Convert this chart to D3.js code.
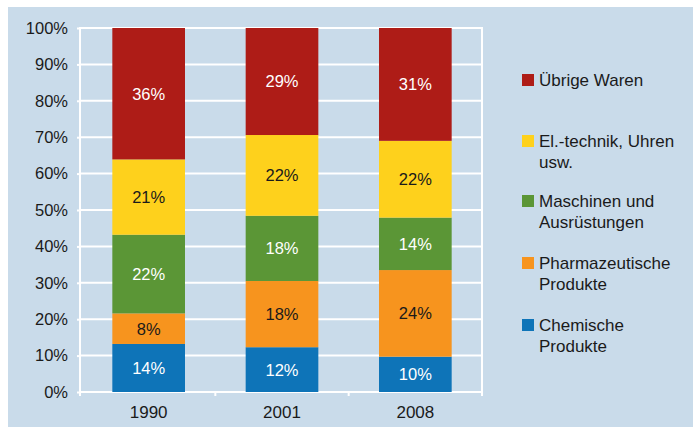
<!DOCTYPE html>
<html>
<head>
<meta charset="utf-8">
<script src="https://cdn.jsdelivr.net/npm/d3@7"></script>
<style>
  html, body { margin: 0; padding: 0; background: #ffffff; }
  svg { display: block; font-family: "Liberation Sans", Arial, Helvetica, sans-serif; }
</style>
</head>
<body>
<svg id="chart" width="693" height="427"></svg>
<script>
// ---- data ----
const years = ["1990", "2001", "2008"];
const seriesNames = ["Chemische Produkte", "Pharmazeutische Produkte", "Maschinen und Ausrüstungen", "El.-technik, Uhren usw.", "Übrige Waren"];
const legendLines = [["Chemische", "Produkte"], ["Pharmazeutische", "Produkte"], ["Maschinen und", "Ausrüstungen"], ["El.-technik, Uhren", "usw."], ["Übrige Waren"]];
const colors = ["#0e74b8", "#f7941e", "#5b9636", "#fed11c", "#ae1c17"];
const labelColors = ["#ffffff", "#1a1a1a", "#ffffff", "#1a1a1a", "#ffffff"];
// shares (percent) per year, bottom to top
const chemische = [13.2, 12.3, 9.7];
const pharma = [8.4, 18.2, 23.8];
const maschinen = [21.6, 17.9, 14.4];
const eltechnik = [20.7, 22.2, 21.1];
const uebrige = [36.1, 29.4, 31.0];
// printed labels
const chemLabels = ["14%", "12%", "10%"];
const pharmaLabels = ["8%", "18%", "24%"];
const maschLabels = ["22%", "18%", "14%"];
const elLabels = ["21%", "22%", "22%"];
const uebrigeLabels = ["36%", "29%", "31%"];
const yTicks = [0, 10, 20, 30, 40, 50, 60, 70, 80, 90, 100];

const seriesValues = [chemische, pharma, maschinen, eltechnik, uebrige];
const seriesLabels = [chemLabels, pharmaLabels, maschLabels, elLabels, uebrigeLabels];

const rows = years.map((yr, i) => {
  const r = { year: yr };
  seriesNames.forEach((s, k) => r[s] = seriesValues[k][i]);
  return r;
});

const svg = d3.select("#chart");

// background panel
svg.append("rect").attr("x", 8).attr("y", 7).attr("width", 685).attr("height", 420).attr("fill", "#c9dbea");

const plotL = 80, plotR = 482, plotT = 28, plotB = 392;
const x = d3.scaleBand().domain(years).range([82, plotR]).paddingInner(0.455).paddingOuter(0.2275);
const y = d3.scaleLinear().domain([0, 100]).range([plotB, plotT]);

// gridlines
svg.append("g").selectAll("line").data(yTicks).join("line")
  .attr("x1", plotL).attr("x2", plotR)
  .attr("y1", d => y(d)).attr("y2", d => y(d))
  .attr("stroke", "#ffffff").attr("stroke-width", 2);

// right border
svg.append("line").attr("x1", plotR).attr("x2", plotR).attr("y1", plotT - 1).attr("y2", plotB + 4)
  .attr("stroke", "#ffffff").attr("stroke-width", 2);

// left axis
const yAxis = svg.append("g").attr("transform", `translate(${plotL},0)`)
  .call(d3.axisLeft(y).tickValues(yTicks).tickFormat(d => d + "%").tickSize(3).tickPadding(9));
yAxis.select(".domain").attr("stroke", "#ffffff").attr("stroke-width", 2)
  .attr("d", `M0,${plotT - 1}V${plotB + 4}`);
yAxis.selectAll(".tick line").attr("stroke", "#ffffff").attr("stroke-width", 2);
yAxis.selectAll(".tick text").attr("fill", "#1a1a1a").style("font-size", "16.5px");

// bottom axis
const xAxis = svg.append("g").attr("transform", `translate(0,${plotB})`)
  .call(d3.axisBottom(x).tickSize(0).tickPadding(14));
xAxis.select(".domain").remove();
xAxis.selectAll(".tick text").attr("fill", "#1a1a1a").style("font-size", "17px");

// category boundary ticks
const bounds = years.map(yr => x(yr) - x.step() * x.paddingInner() / 2).slice(1);
svg.append("g").selectAll("line").data(bounds).join("line")
  .attr("x1", d => d).attr("x2", d => d).attr("y1", plotB).attr("y2", plotB + 4)
  .attr("stroke", "#ffffff").attr("stroke-width", 2);

// stacked bars
const stack = d3.stack().keys(seriesNames)(rows);
const layers = svg.append("g").selectAll("g").data(stack).join("g")
  .attr("fill", (d, i) => colors[i]);
layers.selectAll("rect").data(d => d).join("rect")
  .attr("x", d => x(d.data.year))
  .attr("width", x.bandwidth())
  .attr("y", d => y(d[1]))
  .attr("height", d => y(d[0]) - y(d[1]));

// segment labels
stack.forEach((layer, k) => {
  svg.append("g").selectAll("text").data(layer).join("text")
    .attr("x", d => x(d.data.year) + x.bandwidth() / 2)
    .attr("y", d => (y(d[0]) + y(d[1])) / 2)
    .attr("dy", "0.36em")
    .attr("text-anchor", "middle")
    .attr("fill", labelColors[k])
    .style("font-size", "16.5px")
    .text((d, i) => seriesLabels[k][i]);
});

// legend (top to bottom: reverse series order)
const legendY = [80, 141, 201, 263, 325];
const order = [4, 3, 2, 1, 0];
const lg = svg.append("g");
order.forEach((k, j) => {
  const cy = legendY[j];
  lg.append("rect").attr("x", 522).attr("y", cy - 6).attr("width", 12).attr("height", 12).attr("fill", colors[k]);
  const t = lg.append("text").attr("x", 539).attr("y", cy).attr("dy", "0.36em")
    .attr("fill", "#1a1a1a").style("font-size", "17px");
  legendLines[k].forEach((line, li) => {
    t.append("tspan").attr("x", 539).attr("dy", li === 0 ? "0.36em" : "21px").text(line);
  });
});
</script>
</body>
</html>
